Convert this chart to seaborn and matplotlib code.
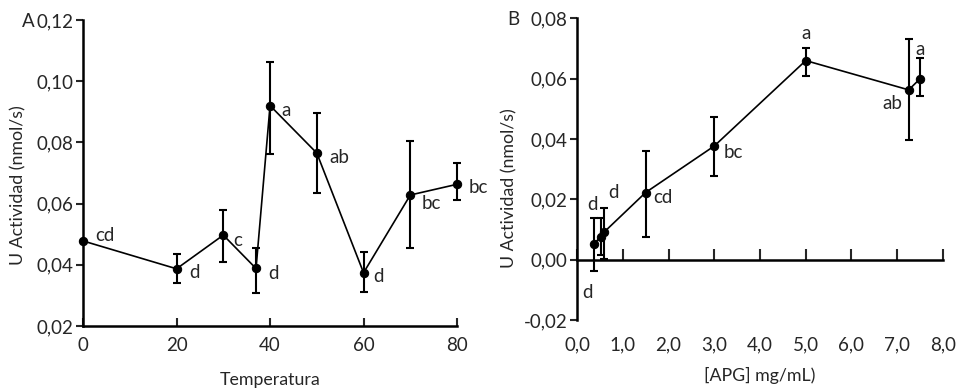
import matplotlib
matplotlib.use("Agg")
import matplotlib.pyplot as plt
import seaborn as sns
import pandas as pd

# panel A - temperatura
temp = [0, 20, 30, 37, 40, 50, 60, 70, 80]
act_temp = [0.0478, 0.0387, 0.0497, 0.0388, 0.0920, 0.0765, 0.0374, 0.0628, 0.0663]
err_lo_temp = [0.0, 0.0047, 0.0087, 0.0080, 0.0158, 0.0129, 0.0064, 0.0172, 0.0050]
err_hi_temp = [0.0, 0.0049, 0.0083, 0.0068, 0.0142, 0.0130, 0.0069, 0.0175, 0.0068]
letras_temp = ["cd", "d", "c", "d", "a", "ab", "d", "bc", "bc"]

# panel B - APG
apg = [0.37, 0.52, 0.60, 1.50, 3.00, 5.00, 7.25, 7.50]
act_apg = [0.0053, 0.0077, 0.0093, 0.0223, 0.0377, 0.0660, 0.0563, 0.0600]
err_lo_apg = [0.0090, 0.0060, 0.0090, 0.0146, 0.0100, 0.0050, 0.0166, 0.0057]
err_hi_apg = [0.0084, 0.0060, 0.0080, 0.0137, 0.0096, 0.0043, 0.0167, 0.0070]
letras_apg = ["d", "d", "d", "cd", "bc", "a", "ab", "a"]

yt_a = [0.02, 0.04, 0.06, 0.08, 0.10, 0.12]
yt_a_lab = ["0,02", "0,04", "0,06", "0,08", "0,10", "0,12"]
xt_a = [0, 20, 40, 60, 80]
yt_b = [-0.02, 0.00, 0.02, 0.04, 0.06, 0.08]
yt_b_lab = ["-0,02", "0,00", "0,02", "0,04", "0,06", "0,08"]
xt_b = [0, 1, 2, 3, 4, 5, 6, 7, 8]
xt_b_lab = ["0,0", "1,0", "2,0", "3,0", "4,0", "5,0", "6,0", "7,0", "8,0"]

# label offsets in pixels (style, not data)
off_a = [(22, 5), (18, -4), (14, -5), (17, -5), (16, -5), (23, -4), (15, -4), (21, -8), (21, -3)]
off_b = [(-6, -49), (-8, 32), (9, 39), (17, -5), (19, -6), (0, 27), (-16, -14), (0, 29)]

sns.set_style("ticks")
plt.rcParams['font.family'] = ['Lato', 'DejaVu Sans']

fig = plt.figure(figsize=(9.59, 3.9), dpi=100)
axA = fig.add_axes([0.0866, 0.164, 0.390, 0.785])
axB = fig.add_axes([0.6017, 0.179, 0.3816, 0.774])

dfA = pd.DataFrame({"x": temp, "y": act_temp})
dfB = pd.DataFrame({"x": apg, "y": act_apg})

for ax, df, elo, ehi, lets, offs in [(axA, dfA, err_lo_temp, err_hi_temp, letras_temp, off_a),
                                     (axB, dfB, err_lo_apg, err_hi_apg, letras_apg, off_b)]:
    sns.lineplot(data=df, x="x", y="y", ax=ax, color="black", lw=1.2, marker="o",
                 markersize=6, markeredgecolor="black", clip_on=False, zorder=3)
    ax.errorbar(df["x"], df["y"], yerr=[elo, ehi], fmt="none", ecolor="black",
                elinewidth=1.5, capsize=3, capthick=1.5, clip_on=False, zorder=2)
    for xi, yi, t, o in zip(df["x"], df["y"], lets, offs):
        ax.annotate(t, (xi, yi), xytext=o, textcoords="offset pixels",
                    ha="center", va="center", fontsize=13.5, annotation_clip=False)
    sns.despine(ax=ax)
    for s in ["left", "bottom"]:
        ax.spines[s].set_linewidth(1.8)
        ax.spines[s].set_color("black")
    ax.tick_params(axis="y", direction="out", length=5, width=1.5, labelsize=13.5, pad=2)

# A
axA.set_xlim(0, 80)
axA.set_ylim(0.02, 0.12)
axA.set_xticks(xt_a)
axA.set_xticklabels([str(v) for v in xt_a])
axA.set_yticks(yt_a)
axA.set_yticklabels(yt_a_lab)
axA.tick_params(axis="x", direction="in", length=6, width=1.5, labelsize=13.5, pad=8)
axA.set_xlabel("Temperatura", fontsize=12.8)
axA.xaxis.set_label_coords(0.5, -0.15)
axA.set_ylabel("U Actividad (nmol/s)", fontsize=12.8)
axA.yaxis.set_label_coords(-0.152, 0.46)
axA.text(-0.147, 0.995, "A", transform=axA.transAxes, fontsize=13.5, ha="center", va="center")

# B
axB.set_xlim(0, 8)
axB.set_ylim(-0.02, 0.08)
axB.spines["bottom"].set_position(("data", 0))
axB.set_xticks(xt_b)
axB.set_xticklabels(xt_b_lab)
axB.set_yticks(yt_b)
axB.set_yticklabels(yt_b_lab)
axB.tick_params(axis="x", direction="in", length=8, width=1.5, labelsize=13.5, pad=55)
axB.set_xlabel("[APG] mg/mL)", fontsize=12.8)
axB.xaxis.set_label_coords(0.5, -0.155)
axB.set_ylabel("U Actividad (nmol/s)", fontsize=12.8)
axB.yaxis.set_label_coords(-0.163, 0.437)
axB.text(-0.175, 0.995, "B", transform=axB.transAxes, fontsize=13.5, ha="center", va="center")

fig.savefig("out.png", dpi=100, facecolor="white")
